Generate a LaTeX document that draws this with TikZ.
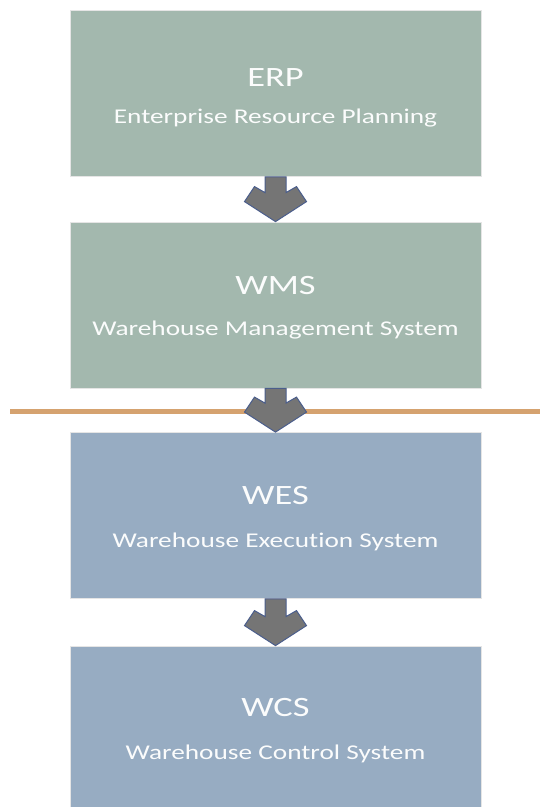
\documentclass[tikz,border=0pt]{standalone}
\usepackage{fontspec}
\setmainfont{Carlito}[FakeStretch=1.3, Ligatures=NoCommon]
\usetikzlibrary{positioning}

\definecolor{plangreen}{HTML}{A3B8AE}
\definecolor{floorblue}{HTML}{97ACC2}
\definecolor{arrowgray}{HTML}{757575}
\definecolor{arrowrim}{HTML}{4B5E8C}
\definecolor{cutline}{HTML}{D5A26F}

\tikzset{
	layer/.style={rectangle, draw=black!10, line width=0.8pt, minimum width=411pt, minimum height=166pt, inner sep=0pt},
	layertitle/.style={text=white!96!plangreen, font=\fontsize{28}{28}\selectfont, anchor=base},
	layersub/.style={text=white!96!plangreen, font=\fontsize{21}{21}\selectfont, anchor=base},
	flowarrow/.style={fill=arrowgray, draw=arrowrim, line width=1pt, line join=miter}
}

\begin{document}
\begin{tikzpicture}[x=1pt,y=-1pt]
\useasboundingbox (0,0) rectangle (540,807);
\clip (0,0) rectangle (540,807);

%layers
\node[layer, fill=plangreen] (erp) at (275.5,93.5) {};
\node[layer, fill=plangreen] (wms) at (275.5,305) {};
\node[layer, fill=floorblue] (wes) at (275.5,515.5) {};
\node[layer, fill=floorblue] (wcs) at (275.5,729) {};

%titles
\node[layertitle] (erp-t) at ([yshift=-76pt]erp.north) {ERP};
\node[layersub] (erp-s) at ([yshift=-113pt]erp.north) {Enterprise Resource Planning};
\node[layertitle] (wms-t) at ([yshift=-73pt]wms.north) {WMS};
\node[layersub] (wms-s) at ([yshift=-114pt]wms.north) {Warehouse Management System};
\node[layertitle] (wes-t) at ([yshift=-72pt]wes.north) {WES};
\node[layersub] (wes-s) at ([yshift=-115pt]wes.north) {Warehouse Execution System};
\node[layertitle] (wcs-t) at ([yshift=-71pt]wcs.north) {WCS};
\node[layersub] (wcs-s) at ([yshift=-114pt]wcs.north) {Warehouse Control System};

%separation line
\draw[cutline, line width=5pt] (10,411) -- (540,411);

%arrows
\draw[flowarrow] (wms.north) -- ++(-31,-20) -- ++(10,-15) -- ++(10.5,6) -- ([xshift=-10.5pt]erp.south) -- ([xshift=10.5pt]erp.south) -- ([xshift=10.5pt,yshift=29pt]wms.north) -- ++(10.5,-6) -- ++(10,15) -- cycle;
\draw[flowarrow] (wes.north) -- ++(-31,-20) -- ++(10,-15) -- ++(10.5,6) -- ([xshift=-10.5pt]wms.south) -- ([xshift=10.5pt]wms.south) -- ([xshift=10.5pt,yshift=29pt]wes.north) -- ++(10.5,-6) -- ++(10,15) -- cycle;
\draw[flowarrow] (wcs.north) -- ++(-31,-20) -- ++(10,-15) -- ++(10.5,6) -- ([xshift=-10.5pt]wes.south) -- ([xshift=10.5pt]wes.south) -- ([xshift=10.5pt,yshift=29pt]wcs.north) -- ++(10.5,-6) -- ++(10,15) -- cycle;

\end{tikzpicture}
\end{document}
